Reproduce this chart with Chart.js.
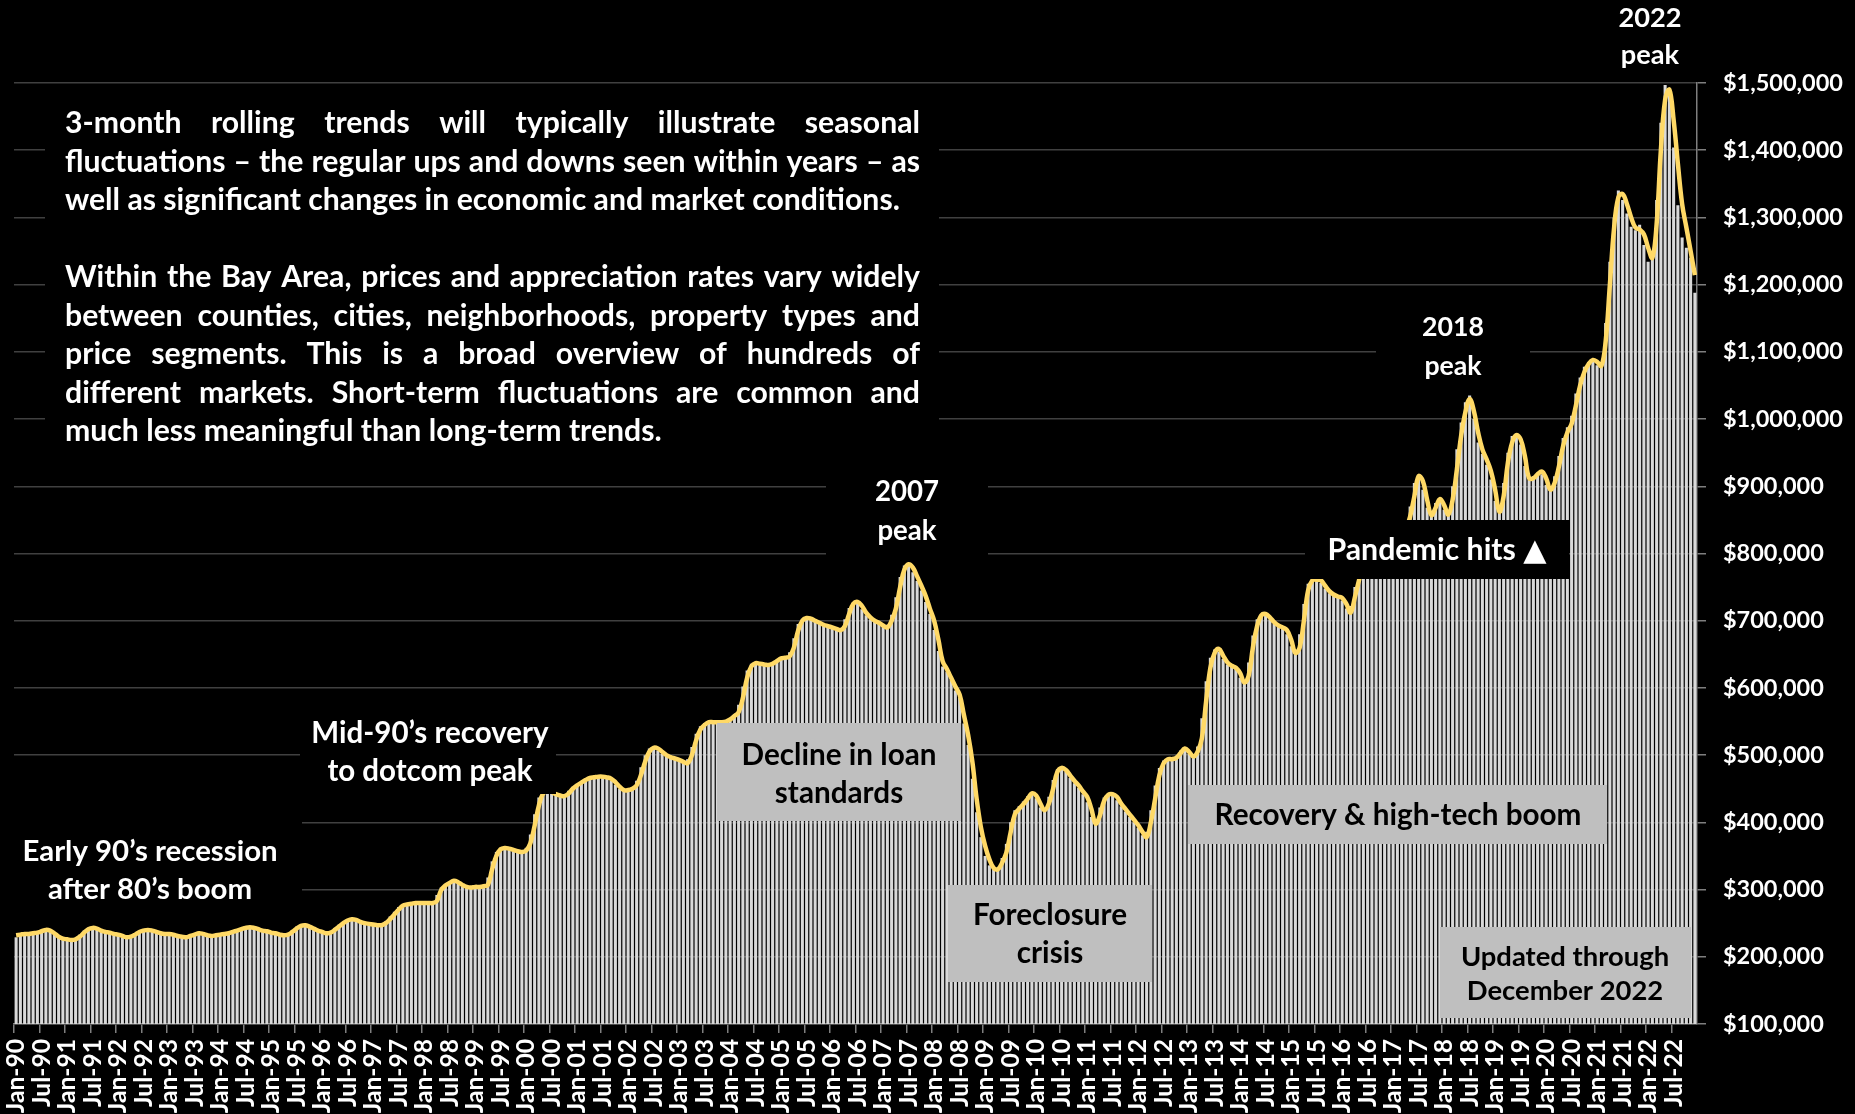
<!DOCTYPE html>
<html>
<head>
<meta charset="utf-8">
<title>Bay Area median house price, 3-month rolling</title>
<script src="https://cdn.jsdelivr.net/npm/chart.js@4.4.0/dist/chart.umd.min.js"></script>
<style>
  html, body { margin: 0; padding: 0; background: #000; overflow: hidden; }
  #wrap { width: 1855px; height: 1114px; }
</style>
</head>
<body>
<div id="wrap"><canvas id="chart" width="1855" height="1114"></canvas></div>
<script>
// monthly series, Jan 1990 .. Dec 2022, values in $ thousands
const years = [];
for (let y = 1990; y <= 2022; y++) years.push(y);
const monthNames = ['Jan','Feb','Mar','Apr','May','Jun','Jul','Aug','Sep','Oct','Nov','Dec'];

// monthly median (bars)
const medianK = [
  229, 233, 234, 235, 236, 237, 239, 240, 238, 233, 229, 226,   // 1990
  225, 225, 228, 233, 239, 243, 243, 241, 238, 237, 235, 233,   // 1991
  232, 229, 229, 232, 235, 238, 240, 240, 238, 236, 234, 234,   // 1992
  234, 232, 230, 229, 230, 232, 234, 235, 233, 231, 231, 233,   // 1993
  234, 234, 236, 238, 240, 242, 244, 244, 242, 240, 238, 237,   // 1994
  235, 234, 232, 232, 235, 240, 245, 247, 246, 243, 240, 238,   // 1995
  236, 235, 238, 243, 248, 252, 256, 256, 253, 251, 249, 248,   // 1996
  247, 247, 249, 253, 260, 267, 274, 277, 279, 280, 280, 280,   // 1997
  280, 280, 281, 292, 303, 308, 312, 312, 309, 305, 303, 304,   // 1998
  304, 304, 306, 318, 342, 356, 362, 362, 360, 358, 356, 356,   // 1999
  362, 382, 412, 437, 446, 446, 444, 441, 439, 441, 447, 453,   // 2000
  457, 461, 465, 467, 468, 468, 467, 466, 462, 456, 450, 447,   // 2001
  449, 452, 462, 482, 500, 510, 511, 507, 502, 498, 496, 494,   // 2002
  491, 489, 494, 512, 532, 543, 548, 549, 549, 549, 550, 551,   // 2003
  555, 561, 575, 602, 626, 636, 637, 635, 634, 635, 638, 642,   // 2004
  645, 646, 653, 674, 695, 703, 704, 701, 698, 695, 693, 691,   // 2005
  689, 687, 689, 702, 719, 727, 726, 717, 708, 702, 698, 695,   // 2006
  691, 694, 709, 735, 765, 782, 782, 772, 759, 745, 728, 710,   // 2007
  686, 655, 632, 624, 612, 596, 585, 547, 515, 465, 415, 378,   // 2008
  350, 336, 330, 333, 347, 368, 400, 418, 424, 431, 439, 444,   // 2009
  436, 422, 421, 438, 463, 479, 481, 475, 466, 458, 451, 442,   // 2010
  430, 408, 402, 422, 437, 442, 441, 433, 424, 416, 408, 400,   // 2011
  392, 381, 386, 418, 455, 481, 492, 494, 495, 499, 507, 509,   // 2012
  502, 500, 513, 555, 610, 645, 657, 654, 643, 635, 632, 628,   // 2013
  615, 610, 638, 678, 702, 710, 709, 702, 695, 691, 688, 680,   // 2014
  662, 654, 680, 725, 755, 761, 761, 756, 748, 741, 737, 735,   // 2015
  730, 718, 722, 750, 775, 795, 803, 803, 797, 792, 789, 790,   // 2016
  796, 807, 825, 845, 870, 905, 914, 895, 868, 860, 875, 878,   // 2017
  865, 862, 900, 955, 995, 1025, 1035, 1000, 965, 948, 932, 910, // 2018
  878, 865, 905, 950, 975, 978, 962, 930, 910, 915, 920, 918,   // 2019
  902, 898, 915, 945, 972, 988, 1005, 1038, 1062, 1078, 1085, 1086, // 2020
  1080, 1078, 1143, 1234, 1300, 1340, 1326, 1306, 1286, 1281, 1289, 1259, // 2021
  1234, 1241, 1326, 1441, 1497, 1487, 1404, 1318, 1270, 1255, 1240, 1188  // 2022
];

// 3-month rolling trend (line)
const rollingK = [
  232, 233, 234, 234, 235, 236, 238, 240, 239, 235, 230, 227,
  226, 225, 226, 230, 236, 241, 243, 242, 239, 237, 236, 234,
  233, 231, 229, 230, 233, 237, 239, 240, 239, 237, 235, 234,
  234, 233, 231, 230, 229, 231, 233, 235, 234, 232, 231, 232,
  233, 234, 235, 237, 239, 241, 243, 244, 243, 241, 239, 238,
  236, 235, 233, 232, 233, 237, 242, 246, 247, 245, 242, 239,
  237, 235, 236, 240, 245, 250, 254, 256, 255, 252, 250, 249,
  248, 247, 247, 250, 256, 263, 270, 276, 278, 279, 280, 280,
  280, 280, 280, 283, 299, 306, 310, 313, 311, 307, 304, 303,
  304, 304, 305, 307, 330, 350, 360, 362, 361, 359, 357, 356,
  358, 369, 395, 425, 443, 446, 445, 442, 440, 439, 443, 450,
  455, 459, 463, 466, 467, 468, 468, 467, 465, 460, 453, 448,
  448, 450, 455, 470, 490, 505, 511, 510, 505, 500, 497, 495,
  493, 490, 488, 500, 522, 538, 545, 549, 549, 549, 549, 550,
  553, 558, 564, 585, 615, 632, 637, 636, 635, 634, 636, 640,
  644, 645, 647, 660, 685, 700, 704, 703, 700, 697, 694, 692,
  690, 688, 686, 692, 710, 725, 728, 722, 712, 705, 700, 697,
  693, 690, 700, 718, 750, 776, 784, 779, 766, 752, 737, 718,
  700, 672, 640, 628, 615, 602, 590, 560, 530, 490, 435, 393,
  365, 345, 332, 330, 340, 355, 385, 412, 420, 427, 435, 443,
  440, 428, 418, 428, 450, 475, 481, 478, 470, 462, 455, 446,
  438, 420, 398, 410, 432, 441, 442, 438, 428, 420, 412, 404,
  396, 386, 378, 400, 435, 470, 488, 494, 494, 496, 503, 510,
  505, 498, 505, 525, 580, 630, 652, 658, 648, 638, 633, 630,
  622, 608, 618, 660, 692, 708, 710, 705, 698, 693, 690, 686,
  672, 652, 660, 700, 745, 760, 761, 760, 752, 744, 739, 736,
  734, 725, 712, 735, 761, 785, 800, 805, 800, 795, 790, 788,
  792, 800, 815, 835, 855, 885, 915, 908, 880, 857, 868, 881,
  872, 858, 880, 925, 975, 1010, 1030, 1012, 980, 955, 940, 923,
  895, 862, 885, 935, 965, 976, 970, 945, 912, 912, 918, 922,
  912, 895, 905, 929, 960, 980, 993, 1020, 1050, 1070, 1082, 1088,
  1085, 1079, 1115, 1200, 1285, 1330, 1335, 1320, 1300, 1285, 1282, 1275,
  1255, 1240, 1290, 1400, 1475, 1490, 1445, 1380, 1320, 1285, 1250, 1214
];

const yMin = 100000, yMax = 1500000, yStep = 100000;

const categories = [];
years.forEach(y => monthNames.forEach(m => categories.push(m + '-' + String(y).slice(2))));

const FONT = 'Lato, "Open Sans", "DejaVu Sans", sans-serif';
const probe = document.createElement('canvas').getContext('2d');
function fitSize(text, width) {
  probe.font = 'bold 100px ' + FONT;
  return 100 * width / probe.measureText(text).width;
}

const paragraph = [
  ['3-month rolling trends will typically illustrate seasonal', true],
  ['fluctuations \u2013 the regular ups and downs seen within years \u2013 as', true],
  ['well as significant changes in economic and market conditions.', false],
  ['Within the Bay Area, prices and appreciation rates vary widely', true],
  ['between counties, cities, neighborhoods, property types and', true],
  ['price segments. This is a broad overview of hundreds of', true],
  ['different markets. Short-term fluctuations are common and', true],
  ['much less meaningful than long-term trends.', false]
];
const paraY = [123, 162, 200, 277, 316, 354, 393, 431];

// callout boxes: backing rectangle, text lines and their centres
const callouts = [
  { rect: [45, 95, 894, 352], fill: '#000' },
  { rect: [826, 463, 162, 92], fill: '#000', color: '#fff', lines: ['2007', 'peak'], cx: 907, ys: [492, 531], fit: 64 },
  { rect: [300, 702, 256, 92], fill: '#000', color: '#fff', lines: ['Mid-90\u2019s recovery', 'to dotcom peak'], cx: 430, ys: [733, 771], fit: 237 },
  { rect: [0, 818, 302, 100], fill: '#000', color: '#fff', lines: ['Early 90\u2019s recession', 'after 80\u2019s boom'], cx: 150, ys: [852, 890], fit: 255 },
  { rect: [1376, 298, 154, 88], fill: '#000', color: '#fff', lines: ['2018', 'peak'], cx: 1453, ys: [327, 366], fit: 62 },
  { rect: [1590, 0, 120, 76], fill: '#000', color: '#fff', lines: ['2022', 'peak'], cx: 1650, ys: [18, 55], fit: 63 },
  { rect: [1305, 520, 264, 59], fill: '#000', color: '#fff', lines: ['Pandemic hits \u25B2'], cx: 1437, ys: [550], fit: 219 },
  { rect: [717, 723, 244, 98], fill: '#bfbfbf', color: '#000', lines: ['Decline in loan', 'standards'], cx: 839, ys: [755, 793], fit: 195 },
  { rect: [948, 885, 204, 97], fill: '#bfbfbf', color: '#000', lines: ['Foreclosure', 'crisis'], cx: 1050, ys: [915, 953], fit: 154 },
  { rect: [1188, 785, 419, 59], fill: '#bfbfbf', color: '#000', lines: ['Recovery & high-tech boom'], cx: 1398, ys: [815], fit: 367 },
  { rect: [1440, 927, 251, 91], fill: '#bfbfbf', color: '#000', lines: ['Updated through', 'December 2022'], cx: 1565, ys: [957, 991], fit: 208 }
];

const backdrop = {
  id: 'backdrop',
  beforeDraw(chart) {
    const ctx = chart.ctx;
    ctx.save();
    ctx.fillStyle = '#000';
    ctx.fillRect(0, 0, chart.width, chart.height);
    ctx.restore();
  }
};

const notes = {
  id: 'notes',
  afterDatasetsDraw(chart) {
    const ctx = chart.ctx;
    ctx.save();
    ctx.textBaseline = 'middle';
    callouts.forEach(c => {
      ctx.fillStyle = c.fill;
      ctx.fillRect(c.rect[0], c.rect[1], c.rect[2], c.rect[3]);
      if (!c.lines) return;
      const size = fitSize(c.lines[0], c.fit);
      ctx.font = 'bold ' + size.toFixed(1) + 'px ' + FONT;
      ctx.fillStyle = c.color;
      ctx.textAlign = 'center';
      c.lines.forEach((t, i) => ctx.fillText(t, c.cx, c.ys[i]));
    });

    // justified paragraph text
    const left = 65, width = 855;
    let size = fitSize(paragraph[2][0], 834);
    paragraph.forEach(p => { size = Math.min(size, fitSize(p[0], width)); });
    ctx.font = 'bold ' + size.toFixed(1) + 'px ' + FONT;
    ctx.fillStyle = '#fff';
    ctx.textAlign = 'left';
    paragraph.forEach((p, i) => {
      const words = p[0].split(' ');
      if (!p[1]) { ctx.fillText(p[0], left, paraY[i]); return; }
      const used = words.reduce((s, w) => s + ctx.measureText(w).width, 0);
      const gap = (width - used) / (words.length - 1);
      let x = left;
      words.forEach(w => { ctx.fillText(w, x, paraY[i]); x += ctx.measureText(w).width + gap; });
    });
    ctx.restore();
  }
};

const yTickSize = fitSize('$1,500,000', 120);
const xTickSize = fitSize('Jul-90', 68);

new Chart(document.getElementById('chart'), {
  type: 'bar',
  data: {
    labels: categories,
    datasets: [
      {
        type: 'line',
        label: '3-month rolling',
        data: rollingK.map(v => v * 1000),
        borderColor: '#ffd966',
        borderWidth: 4.5,
        pointRadius: 0,
        tension: 0.4,
        fill: false,
        order: 0
      },
      {
        label: 'Monthly median',
        data: medianK.map(v => v * 1000),
        backgroundColor: '#d9d9d9',
        borderWidth: 0,
        barPercentage: 0.72,
        categoryPercentage: 1,
        order: 1
      }
    ]
  },
  options: {
    responsive: false,
    devicePixelRatio: 1,
    animation: false,
    layout: { padding: { left: 14, top: 83, right: 0, bottom: 0 } },
    plugins: { legend: { display: false }, tooltip: { enabled: false } },
    scales: {
      x: {
        offset: true,
        grid: {
          offset: true,
          drawOnChartArea: false,
          tickLength: 9,
          lineWidth: 1.5,
          color: ctx => (ctx.index % 6 === 0 ? '#7f7f7f' : 'rgba(0,0,0,0)')
        },
        border: { color: '#7f7f7f', width: 1.5 },
        ticks: {
          autoSkip: false,
          minRotation: 90,
          maxRotation: 90,
          padding: 6,
          color: '#fff',
          font: { family: FONT, size: xTickSize, weight: 'bold' },
          callback(value, index) {
            return index % 6 === 0 ? this.getLabelForValue(value) : '';
          }
        },
        afterFit(scale) { scale.height = 90; }
      },
      y: {
        position: 'right',
        min: yMin,
        max: yMax,
        grid: { color: '#404040', lineWidth: 1.5, tickLength: 9, tickColor: '#7f7f7f' },
        border: { color: '#7f7f7f', width: 1.5 },
        ticks: {
          stepSize: yStep,
          padding: 17,
          color: '#fff',
          font: { family: FONT, size: yTickSize, weight: 'bold' },
          callback: v => '$' + v.toLocaleString('en-US')
        },
        afterFit(scale) { scale.width = 158; }
      }
    }
  },
  plugins: [backdrop, notes]
});
</script>
</body>
</html>
